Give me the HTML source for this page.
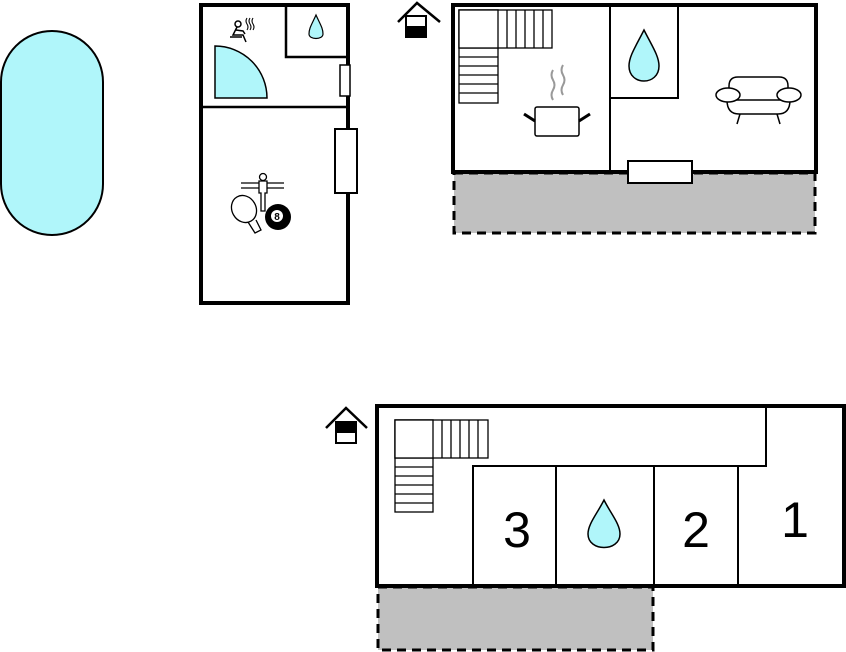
<!DOCTYPE html>
<html><head><meta charset="utf-8"><style>
html,body{margin:0;padding:0;background:#fff;width:846px;height:652px;overflow:hidden}
svg{display:block}
</style></head><body>
<svg width="846" height="652" viewBox="0 0 846 652" xmlns="http://www.w3.org/2000/svg" font-family="Liberation Sans, sans-serif">
<rect x="1" y="31" width="102" height="204" rx="51" ry="51" fill="#b0f6fa" stroke="#000" stroke-width="2"/>

<rect x="201" y="5" width="147" height="298" fill="#fff" stroke="#000" stroke-width="4"/>
<line x1="201" y1="107" x2="349" y2="107" stroke="#000" stroke-width="2.5"/>
<polyline points="286,5 286,57 348,57" fill="none" stroke="#000" stroke-width="2.5"/>
<path d="M316,15 C312,24 309,28 309,34 C309,40 323,40 323,34 C323,28 320,24 316,15Z" fill="#b0f6fa" stroke="#000" stroke-width="1.2"/>
<path d="M215,98 L215,46 A52,52 0 0 1 267,98 Z" fill="#b0f6fa" stroke="#000" stroke-width="1.5"/>
<rect x="340" y="65" width="10" height="31" fill="#fff" stroke="#000" stroke-width="1.5"/>
<rect x="335" y="129" width="22" height="64" fill="#fff" stroke="#000" stroke-width="2"/>
<g stroke="#000" stroke-width="1.5" fill="none">
<circle cx="238" cy="24" r="3"/>
<path d="M237,27 L233,35 L243,35 L246,42 M236,30 L243,31 L245,34 M230,37 L242,37"/>
<path d="M247,18 q-2,3 0,6 q2,3 0,6 M250,18 q-2,3 0,6 q2,3 0,6 M253,18 q-2,3 0,6 q2,3 0,6" stroke-width="1.1"/>
</g>
<g stroke="#000" stroke-width="1.3" fill="#fff">
<line x1="241" y1="183" x2="284" y2="183"/><line x1="241" y1="188" x2="284" y2="188"/>
<circle cx="263" cy="177" r="3.5"/>
<path d="M259,181 h8 v12 h-2 v18 h-4 v-18 h-2 z"/>
<path d="M248,222 l7,11 l6,-3 l-5,-10" />
<ellipse cx="244" cy="209" rx="12" ry="14" transform="rotate(-30 244 209)"/>
</g>
<circle cx="278" cy="217" r="13" fill="#000"/>
<circle cx="277" cy="216" r="6" fill="#fff"/>
<text x="277" y="220" font-size="10" font-weight="bold" text-anchor="middle">8</text>

<polyline points="398,22 417,3 440,22" fill="none" stroke="#000" stroke-width="2.5"/>
<rect x="405" y="15" width="22" height="23" fill="#000"/>
<rect x="407" y="17" width="18" height="9" fill="#fff"/>

<rect x="454" y="173" width="361" height="60" fill="#c0c0c0" stroke="#000" stroke-width="3" stroke-dasharray="9,6"/>
<rect x="453" y="5" width="363" height="167" fill="#fff" stroke="#000" stroke-width="4"/>
<line x1="610" y1="5" x2="610" y2="172" stroke="#000" stroke-width="2"/>
<polyline points="610,98 678,98 678,5" fill="none" stroke="#000" stroke-width="2"/>
<path d="M644,30 C636,46 629,56 629,66 C629,86 659,86 659,66 C659,56 652,46 644,30Z" fill="#b0f6fa" stroke="#000" stroke-width="1.5"/>
<rect x="628" y="161" width="64" height="22" fill="#fff" stroke="#000" stroke-width="2"/>
<g fill="#fff" stroke="#000" stroke-width="1.3">
<rect x="459" y="10" width="39" height="93"/>
<rect x="459" y="10" width="93" height="38"/>
<rect x="459" y="10" width="39" height="38"/>
</g>
<g stroke="#000" stroke-width="1.3">
<line x1="507" y1="10" x2="507" y2="48"/><line x1="516" y1="10" x2="516" y2="48"/><line x1="525" y1="10" x2="525" y2="48"/><line x1="534" y1="10" x2="534" y2="48"/><line x1="543" y1="10" x2="543" y2="48"/>
<line x1="459" y1="57" x2="498" y2="57"/><line x1="459" y1="66" x2="498" y2="66"/><line x1="459" y1="75" x2="498" y2="75"/><line x1="459" y1="84" x2="498" y2="84"/><line x1="459" y1="93" x2="498" y2="93"/>
</g>
<path d="M553,70 q-3,5 0,10 q3,5 0,10 q-3,5 0,10 M563,65 q-3,5 0,10 q3,5 0,10 q-3,5 0,10" fill="none" stroke="#999" stroke-width="2"/>
<rect x="535" y="107" width="44" height="29" rx="2" fill="#fff" stroke="#000" stroke-width="1.5"/>
<line x1="524" y1="114" x2="535" y2="121" stroke="#000" stroke-width="3"/>
<line x1="590" y1="114" x2="579" y2="121" stroke="#000" stroke-width="3"/>
<g fill="#fff" stroke="#000" stroke-width="1.5">
<path d="M729,98 v-12 q0,-9 9,-9 h41 q9,0 9,9 v12"/>
<path d="M727,100 q0,14 12,14 h39 q12,0 12,-14 z"/>
<ellipse cx="728" cy="95" rx="12" ry="7"/>
<ellipse cx="789" cy="95" rx="12" ry="7"/>
<line x1="740" y1="114" x2="737" y2="124"/><line x1="777" y1="114" x2="780" y2="124"/>
</g>

<polyline points="326,428 346,408 367,428" fill="none" stroke="#000" stroke-width="2.5"/>
<rect x="335" y="421" width="22" height="23" fill="#000"/>
<rect x="337" y="433" width="18" height="9" fill="#fff"/>

<rect x="378" y="587" width="275" height="63" fill="#c0c0c0" stroke="#000" stroke-width="3" stroke-dasharray="9,6"/>
<rect x="377" y="406" width="467" height="180" fill="#fff" stroke="#000" stroke-width="4"/>
<polyline points="473,586 473,466 766,466 766,406" fill="none" stroke="#000" stroke-width="2"/>
<line x1="556" y1="466" x2="556" y2="586" stroke="#000" stroke-width="2"/>
<line x1="654" y1="466" x2="654" y2="586" stroke="#000" stroke-width="2"/>
<line x1="738" y1="466" x2="738" y2="586" stroke="#000" stroke-width="2"/>
<g fill="#fff" stroke="#000" stroke-width="1.3">
<rect x="395" y="420" width="38" height="92"/>
<rect x="395" y="420" width="93" height="38"/>
<rect x="395" y="420" width="38" height="38"/>
</g>
<g stroke="#000" stroke-width="1.3">
<line x1="442" y1="420" x2="442" y2="458"/><line x1="451" y1="420" x2="451" y2="458"/><line x1="460" y1="420" x2="460" y2="458"/><line x1="469" y1="420" x2="469" y2="458"/><line x1="478" y1="420" x2="478" y2="458"/>
<line x1="395" y1="467" x2="433" y2="467"/><line x1="395" y1="476" x2="433" y2="476"/><line x1="395" y1="485" x2="433" y2="485"/><line x1="395" y1="494" x2="433" y2="494"/><line x1="395" y1="503" x2="433" y2="503"/>
</g>
<path d="M604,500 C597,514 588,524 588,534 C588,552 620,552 620,534 C620,524 611,514 604,500Z" fill="#b0f6fa" stroke="#000" stroke-width="1.5"/>
<text x="517" y="547" font-size="50" text-anchor="middle">3</text>
<text x="696" y="547" font-size="50" text-anchor="middle">2</text>
<text x="795" y="537" font-size="50" text-anchor="middle">1</text>
</svg>
</body></html>
